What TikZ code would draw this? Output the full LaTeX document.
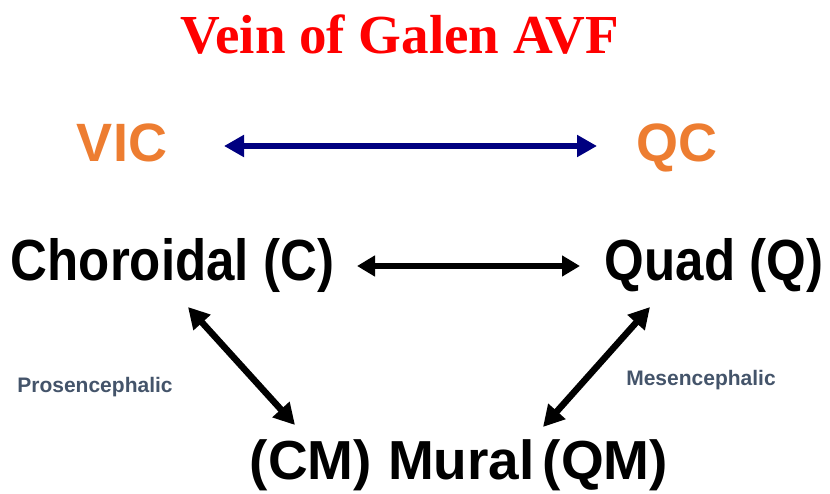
\documentclass[tikz,border=0pt]{standalone}
\usepackage{fontspec}
\setmainfont{Liberation Serif}
\newfontfamily\lsans{Liberation Sans}
\newfontfamily\cond{Liberation Sans}[FakeStretch=0.88]
\usetikzlibrary{arrows.meta}
\definecolor{titlered}{HTML}{FF0000}
\definecolor{vorange}{HTML}{ED7D31}
\definecolor{vnavy}{HTML}{000080}
\definecolor{vslate}{HTML}{44546A}
\tikzset{
  titletext/.style={inner sep=0pt, anchor=base, text=titlered, font=\fontsize{55}{60}\selectfont\bfseries},
  abbrtext/.style={inner sep=0pt, anchor=base, text=vorange, font=\lsans\fontsize{54}{58}\selectfont\bfseries},
  maintext/.style={inner sep=0pt, anchor=base, text=black, font=\cond\fontsize{58}{62}\selectfont\bfseries},
  muraltext/.style={inner sep=0pt, anchor=base, text=black, font=\lsans\fontsize{55}{62}\selectfont\bfseries},
  sidetext/.style={inner sep=0pt, anchor=base, text=vslate, font=\lsans\fontsize{21}{24}\selectfont\bfseries},
  bluearrow/.style={draw=vnavy, line width=6.5pt, {Triangle[width=21pt,length=20pt]}-{Triangle[width=21pt,length=20pt]}},
  blackarrow/.style={draw=black, line width=5.5pt, {Triangle[width=20pt,length=18pt]}-{Triangle[width=20pt,length=18pt]}},
  diagarrow/.style={draw=black, line width=6.5pt, {Triangle[width=22pt,length=21pt]}-{Triangle[width=22pt,length=21pt]}}
}
\begin{document}
\begin{tikzpicture}[x=1pt,y=-1pt]
\useasboundingbox (0,0) rectangle (830,493);
\node[titletext] (title) at (400,53) {Vein of Galen AVF};
\node[abbrtext] (vic) at (122,161) {VIC};
\node[abbrtext] (qc) at (677,161) {QC};
\node[maintext] (ch) at (172.5,280) {Choroidal (C)};
\node[maintext] (qu) at (714,280) {Quad (Q)};
\node[muraltext] (mu) at (459,479) {(CM)\hspace{16pt}Mural\hspace{8pt}(QM)};
\node[sidetext] (pro) at (95,392) {Prosencephalic};
\node[sidetext] (mes) at (701,385) {Mesencephalic};
\draw[bluearrow] ([shift={(102,-15)}]vic.base) -- ([shift={(-80,-15)}]qc.base);
\draw[blackarrow] ([shift={(184.5,-14)}]ch.base) -- ([shift={(-134,-14)}]qu.base);
\draw[diagarrow] ([shift={(15.5,27)}]ch.base) -- ([shift={(-164,-54)}]mu.base);
\draw[diagarrow] ([shift={(-64,27)}]qu.base) -- ([shift={(84,-52)}]mu.base);
\end{tikzpicture}
\end{document}
